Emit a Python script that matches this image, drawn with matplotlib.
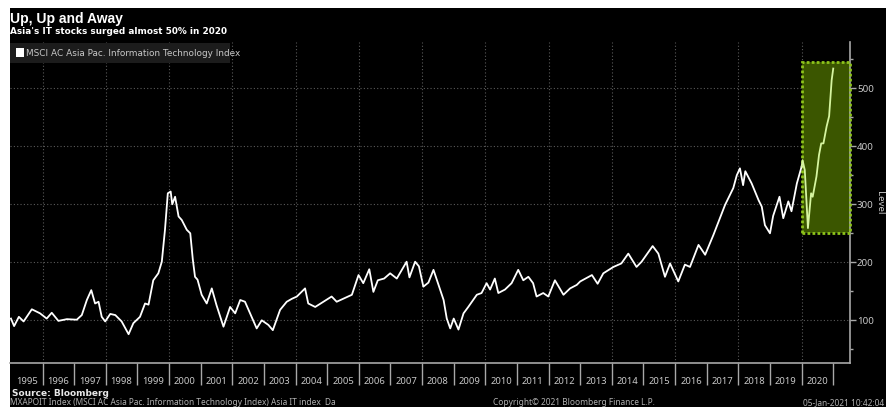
import matplotlib
matplotlib.use('Agg')
import matplotlib.pyplot as plt
from matplotlib.patches import Rectangle
from matplotlib.ticker import FixedLocator, NullFormatter

# ---------------- data ----------------
years_main = [1995.0, 1995.1, 1995.25, 1995.4, 1995.66, 1995.92, 1996.13, 1996.29, 1996.5, 1996.77,
              1997.08, 1997.24, 1997.4, 1997.54, 1997.66, 1997.77, 1997.87, 1997.98, 1998.14, 1998.3,
              1998.5, 1998.72, 1998.87, 1999.08, 1999.24, 1999.35, 1999.5, 1999.66, 1999.77, 1999.87,
              1999.96, 2000.05, 2000.1, 2000.19, 2000.3, 2000.4, 2000.56, 2000.67, 2000.75, 2000.82,
              2000.9, 2001.03, 2001.19, 2001.35, 2001.5, 2001.72, 2001.93, 2002.09, 2002.25, 2002.4,
              2002.56, 2002.77, 2002.93, 2003.14, 2003.28, 2003.51, 2003.72, 2003.88, 2004.04, 2004.3,
              2004.4, 2004.62, 2004.88, 2005.14, 2005.3, 2005.5, 2005.78, 2005.99, 2006.14, 2006.33,
              2006.46, 2006.6, 2006.8, 2006.99, 2007.2, 2007.51, 2007.6, 2007.78, 2007.9, 2008.04,
              2008.2, 2008.36, 2008.52, 2008.68, 2008.78, 2008.89, 2009.0, 2009.15, 2009.31, 2009.46,
              2009.73, 2009.88, 2010.04, 2010.15, 2010.3, 2010.41, 2010.62, 2010.83, 2011.04, 2011.2,
              2011.36, 2011.51, 2011.62, 2011.83, 2011.99, 2012.2, 2012.47, 2012.68, 2012.89, 2013.0,
              2013.37, 2013.55, 2013.73, 2014.05, 2014.3, 2014.52, 2014.78, 2014.94, 2015.29, 2015.47,
              2015.68, 2015.84, 2016.1, 2016.31, 2016.47, 2016.74, 2016.95, 2017.21, 2017.58, 2017.84,
              2017.95, 2018.05, 2018.15, 2018.22, 2018.42, 2018.64, 2018.74, 2018.84, 2019.0, 2019.1,
              2019.3, 2019.42, 2019.58, 2019.68, 2019.85, 2020.0]
level_main = [103, 90, 106, 98, 119, 112, 103, 113, 99, 102,
              101, 109, 135, 152, 129, 132, 106, 98, 111, 109,
              98, 76, 95, 106, 129, 127, 169, 181, 201, 256,
              319, 322, 300, 313, 279, 273, 256, 250, 205, 175,
              170, 144, 129, 155, 126, 89, 123, 112, 135, 132,
              112, 86, 100, 92, 83, 118, 132, 137, 141, 155,
              129, 123, 132, 141, 132, 137, 144, 178, 164, 188,
              149, 169, 172, 181, 172, 201, 174, 201, 193, 158,
              165, 187, 161, 135, 103, 86, 103, 84, 112, 123,
              144, 147, 164, 153, 172, 147, 153, 164, 187, 169,
              175, 164, 141, 147, 141, 169, 144, 155, 161, 167,
              178, 163, 181, 192, 198, 215, 192, 201, 228, 215,
              175, 198, 167, 196, 192, 230, 213, 247, 299, 328,
              350, 362, 333, 357, 336, 307, 296, 264, 250, 280,
              313, 276, 305, 288, 336, 365]

years_2020 = [2020.0, 2020.03, 2020.1, 2020.2, 2020.3, 2020.35, 2020.47, 2020.55, 2020.62,
              2020.69, 2020.79, 2020.87, 2020.95, 2021.0]
level_2020 = [365, 376, 359, 259, 319, 313, 348, 385, 405,
              405, 434, 452, 514, 534]

year_labels = [str(y) for y in range(1995, 2021)]
ytick_values = [100, 200, 300, 400, 500]
highlight_x = [2020.0]
highlight_y = [251, 546]

title = "Up, Up and Away"
subtitle = "Asia's IT stocks surged almost 50% in 2020"
legend_label = "MSCI AC Asia Pac. Information Technology Index"

# ---------------- figure ----------------
W, H = 895, 407
fig = plt.figure(figsize=(W / 100, H / 100), dpi=100, facecolor='white')
fig.patches.append(Rectangle((10 / W, 0), (886 - 10) / W, (H - 8) / H,
                             transform=fig.transFigure, facecolor='black',
                             edgecolor='none', zorder=-10))

def fx(px):
    return px / W

def fy(py):
    return 1 - py / H

ax = fig.add_axes([fx(10), fy(362.7), (850 - 10) / W, (362.7 - 42) / H])
ax.set_zorder(1)
ax.set_facecolor('black')
xmin, xmax = 1994.97, 2021.53
ax.set_xlim(xmin, xmax)
ax.set_ylim(26.9, 579.8)

gridc = '#5a5a5a'
axc = '#a8a8a8'
txtc = '#c8c8c8'

# grid
for yv in ytick_values:
    ax.axhline(yv, color=gridc, lw=0.8, ls=(0, (1, 2)), zorder=1)
for yr in range(1996, 2021, 2):
    ax.axvline(yr, color=gridc, lw=0.8, ls=(0, (1, 2)), zorder=1)

# highlight box
ax.add_patch(Rectangle((highlight_x[0], highlight_y[0]), xmax - highlight_x[0],
                       highlight_y[1] - highlight_y[0], facecolor='#3b5600',
                       edgecolor='none', zorder=2))
ax.add_patch(Rectangle((highlight_x[0], highlight_y[0]), xmax - highlight_x[0],
                       highlight_y[1] - highlight_y[0], facecolor='none',
                       edgecolor='#8cc21a', lw=2.0, ls=(0, (1, 0.8)), zorder=3,
                       clip_on=False))

# lines
ax.plot(years_main, level_main, color='white', lw=1.3, zorder=4)
ax.plot(years_2020, level_2020, color='#d6f5a0', lw=1.3, zorder=4)

# spines
for s in ['left', 'top']:
    ax.spines[s].set_visible(False)
ax.spines['right'].set_color(axc)
ax.spines['bottom'].set_color(axc)
ax.spines['right'].set_linewidth(1.2)
ax.spines['bottom'].set_linewidth(1.2)

# y axis on right
ax.yaxis.tick_right()
ax.yaxis.set_label_position('right')
ax.yaxis.set_major_locator(FixedLocator(ytick_values))
ax.yaxis.set_minor_locator(FixedLocator([50, 150, 250, 350, 450, 550]))
ax.tick_params(axis='y', which='major', colors=axc, labelcolor=txtc, length=4,
               width=1, direction='out', labelsize=7, pad=1)
ax.tick_params(axis='y', which='minor', colors=axc, length=2.5, width=1, direction='out')
for lab in ax.get_yticklabels():
    lab.set_family(['Noto Sans', 'DejaVu Sans'])
ax.set_ylabel('Level', color=txtc, fontsize=7, rotation=270, labelpad=7,
              family=['Noto Sans', 'DejaVu Sans'])

# x axis: labels centred in year cells, separators at year boundaries
ax.xaxis.set_major_locator(FixedLocator([y + 0.5 for y in range(1995, 2021)]))
ax.set_xticklabels(year_labels)
ax.xaxis.set_minor_locator(FixedLocator(list(range(1996, 2022))))
ax.xaxis.set_minor_formatter(NullFormatter())
ax.tick_params(axis='x', which='major', length=0, labelcolor=txtc, labelsize=6.8, pad=10)
ax.tick_params(axis='x', which='minor', length=16, width=1, colors=axc, direction='out')
for lab in ax.get_xticklabels():
    lab.set_family(['Noto Sans', 'DejaVu Sans'])

# legend box
fig.patches.append(Rectangle((fx(10), fy(63.3)), (230 - 10) / W, (63.3 - 42.7) / H,
                             transform=fig.transFigure, facecolor='#1c1c1c',
                             edgecolor='none', zorder=5))
fig.patches.append(Rectangle((fx(16), fy(56.5)), 8 / W, 8 / H,
                             transform=fig.transFigure, facecolor='white',
                             edgecolor='none', zorder=6))
fig.text(fx(26), fy(53), legend_label, color=txtc, fontsize=6.4, va='center', ha='left',
         family=['Liberation Sans Narrow', 'DejaVu Sans'], zorder=7)

# titles
fig.text(fx(10), fy(19), title, color='white', fontsize=10, fontweight='bold',
         va='center', ha='left', family=['Liberation Sans', 'DejaVu Sans'])
fig.text(fx(10), fy(32), subtitle, color='white', fontsize=6.4, fontweight='bold',
         va='center', ha='left', family=['DejaVu Sans'])

# footer
fig.text(fx(12), fy(393), "Source: Bloomberg", color='#e8e8e8', fontsize=6.5,
         fontweight='bold', va='center', ha='left', family=['DejaVu Sans'])
fig.text(fx(10), fy(402.5), "MXAPOIT Index (MSCI AC Asia Pac. Information Technology Index) Asia IT index  Da",
         color='#b0b0b0', fontsize=6.0, va='center', ha='left', family=['Noto Sans', 'DejaVu Sans'])
fig.text(fx(493), fy(402.5), "Copyright\u00a9 2021 Bloomberg Finance L.P.", color='#b0b0b0',
         fontsize=6.0, va='center', ha='left', family=['Noto Sans', 'DejaVu Sans'])
fig.text(fx(884), fy(402.5), "05-Jan-2021 10:42:04", color='#b0b0b0', fontsize=6.0,
         va='center', ha='right', family=['Noto Sans', 'DejaVu Sans'])

fig.savefig('out.png', dpi=100, facecolor=fig.get_facecolor())
